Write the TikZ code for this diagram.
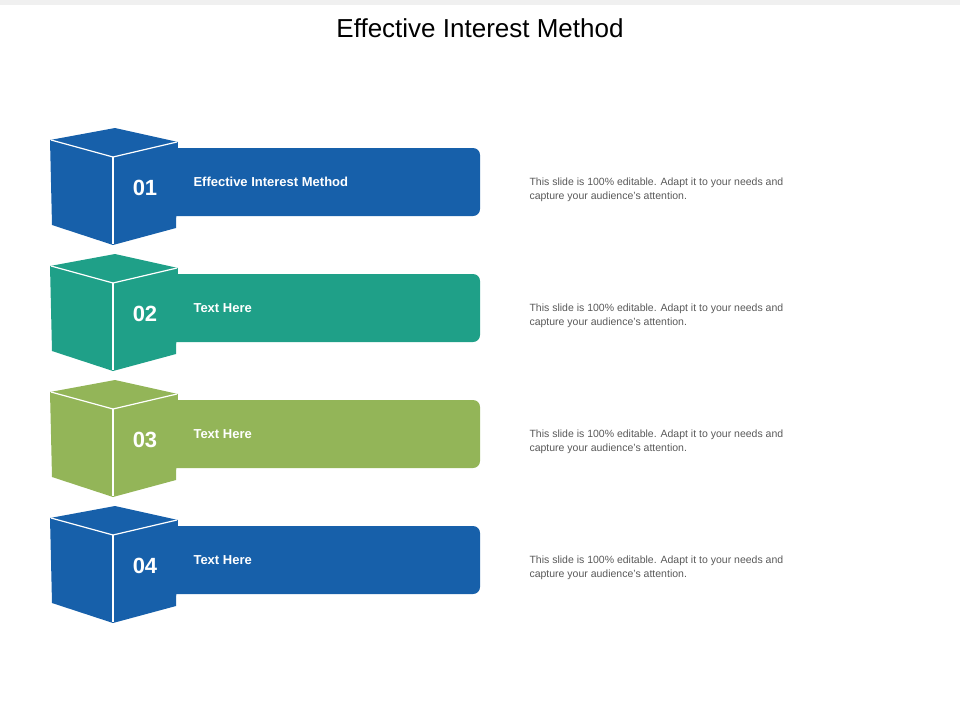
\documentclass[tikz,border=0pt]{standalone}
\usepackage{fontspec}
\setmainfont{Liberation Sans}
\definecolor{cblue}{HTML}{1760AA}
\definecolor{cteal}{HTML}{1FA088}
\definecolor{cgreen}{HTML}{93B558}
\definecolor{ctext}{HTML}{595959}
\tikzset{
  bar/.style={fill=#1, draw=none},
  edge/.style={draw=white, line width=1.2pt},
  num/.style={text=white, font=\bfseries\fontsize{22}{24}\selectfont},
  lbl/.style={text=white, font=\bfseries\fontsize{13}{15}\selectfont, anchor=west},
  desc/.style={text=ctext, font=\fontsize{10.5}{13.5}\selectfont, anchor=west, align=left},
}
\begin{document}
\begin{tikzpicture}[x=1pt,y=-1pt]
\useasboundingbox (0,0) rectangle (960,720);
\fill[black!6] (0,0) rectangle (960,5);
\node[font=\fontsize{26}{30}\selectfont] (title) at (480,28) {Effective Interest Method};
\foreach \i/\y/\c/\t in {1/182/cblue/Effective Interest Method,2/308/cteal/Text Here,3/434/cgreen/Text Here,4/560/cblue/Text Here}{
  \fill[\c, rounded corners=7pt] (150,\y-34) -- (480,\y-34) -- (480,\y+34) -- (150,\y+34) -- cycle;
  \fill[\c] (50,\y-42) -- (115,\y-54) -- (178,\y-40) -- (176,\y+46) -- (113,\y+63) -- (52,\y+43) -- cycle;
  \draw[edge] (51,\y-42) -- (113,\y-25) -- (177,\y-40);
  \draw[edge] (113,\y-25) -- (113,\y+62);
  \node[num] (n\i) at (145,\y+6) {0\i};
  \node[lbl] (l\i) at (190,\y) {\t};
  \node[desc] (d\i) at (526,\y+8) {This slide is 100\% editable. Adapt it to your needs and\\capture your audience's attention.};
}
\end{tikzpicture}
\end{document}
